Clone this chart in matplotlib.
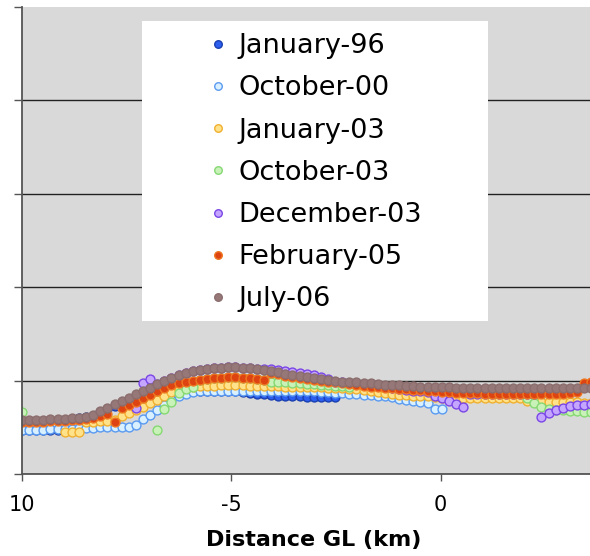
import numpy as np
import matplotlib
matplotlib.use('Agg')
import matplotlib.pyplot as plt
from matplotlib.patches import Rectangle

nan = np.nan

# distance from grounding line (km), sample positions along the profile
distance_km = [-10.00, -9.83, -9.66, -9.49, -9.32, -9.15, -8.98, -8.81, -8.64, -8.47,
               -8.30, -8.13, -7.96, -7.79, -7.62, -7.45, -7.28, -7.11, -6.94, -6.77,
               -6.60, -6.43, -6.26, -6.09, -5.92, -5.75, -5.58, -5.41, -5.24, -5.07,
               -4.90, -4.73, -4.56, -4.39, -4.22, -4.05, -3.88, -3.71, -3.54, -3.37,
               -3.20, -3.03, -2.86, -2.69, -2.52, -2.35, -2.18, -2.01, -1.84, -1.67,
               -1.50, -1.33, -1.16, -0.99, -0.82, -0.65, -0.48, -0.31, -0.14, 0.03,
               0.20, 0.37, 0.54, 0.71, 0.88, 1.05, 1.22, 1.39, 1.56, 1.73,
               1.90, 2.07, 2.24, 2.41, 2.58, 2.75, 2.92, 3.09, 3.26, 3.43, 3.60]

jan96 = [0.47, 0.47, 0.47, 0.47, 0.47, 0.47, 0.47, 0.47,
         0.60, 0.61, 0.62, 0.66, 0.70, 0.73,
         0.74, 0.75, 0.77, 0.79, 0.81, 0.83, 0.85, 0.86, 0.87, 0.88,
         0.89, 0.89, 0.89, 0.89, 0.89, 0.89, 0.89,
         0.88, 0.87, 0.86, 0.86, 0.85, 0.84, 0.83, 0.83, 0.83, 0.82, 0.82, 0.82, 0.82, 0.82,
         nan, nan, nan, nan, nan, nan, nan, nan, nan, nan, nan, nan,
         nan, nan, nan, nan, nan, nan, nan, nan, nan, nan, nan, nan,
         nan, nan, nan, nan, nan, nan, nan, nan, nan, nan, nan, nan]

oct00 = [0.47, 0.47, 0.47, 0.47, 0.48, 0.48, 0.48, 0.48, 0.49, 0.49, 0.49,
         0.50, 0.50, 0.50, 0.50, 0.50, 0.52,
         0.59, 0.63, 0.68, 0.74, 0.79, 0.83, 0.86, 0.88,
         0.89, 0.89, 0.89, 0.89, 0.89, 0.89, 0.89, 0.89,
         0.89, 0.89, 0.89, 0.89, 0.89, 0.89, 0.89, 0.89,
         0.89, 0.88, 0.88, 0.87, 0.87, 0.86, 0.86, 0.85, 0.85, 0.84, 0.83, 0.82,
         0.80, 0.79, 0.78, 0.77, 0.76, 0.70, 0.70,
         nan, nan, nan, nan, nan, nan, nan, nan, nan, nan, nan,
         nan, nan, nan, nan, nan, nan, nan, nan, nan, nan]

jan03 = [nan, nan, nan, nan, nan, nan,
         0.45, 0.45, 0.45,
         0.56, 0.56, 0.57, 0.57, 0.58,
         0.62, 0.65, 0.68, 0.72, 0.76, 0.79, 0.84, 0.88, 0.90, 0.92,
         0.93, 0.94, 0.94, 0.94, 0.95, 0.95, 0.95, 0.95, 0.94, 0.94,
         0.94, 0.94, 0.94, 0.93, 0.93, 0.93, 0.93,
         0.93, 0.93, 0.92, 0.92, 0.92, 0.91, 0.91, 0.90, 0.89, 0.88, 0.87, 0.86,
         0.85, 0.85, 0.84, 0.83, 0.83,
         0.82, 0.81, 0.81, 0.81, 0.81, 0.81, 0.81, 0.81, 0.81, 0.81, 0.81, 0.81, 0.81,
         0.78, 0.77, 0.77, 0.77, 0.77, 0.77, 0.77, 0.77, 0.76, 0.76]

oct03 = [0.66,
         nan, nan, nan, nan, nan, nan, nan, nan, nan,
         nan, nan, nan, nan, nan, nan, nan, nan, nan,
         0.47, 0.70, 0.77, 0.87, 0.91, 0.93,
         1.01, 1.02, 1.03, 1.03, 1.04, 1.04, 1.03, 1.03, 1.02, 1.01,
         0.99, 0.98, 0.98, 0.97, 0.97, 0.96, 0.96, 0.95, 0.95, 0.94, 0.94, 0.93,
         nan, nan, nan, nan, nan, nan, nan, nan, nan, nan, nan, nan,
         nan, nan, nan, nan, nan, nan, nan, nan, nan, nan, nan, nan,
         0.81, 0.76, 0.72, 0.70, 0.69, 0.68, 0.67, 0.67, 0.66, 0.66]

dec03 = [nan, nan, nan, nan, nan, nan, nan, nan,
         nan, nan, nan, nan, nan, nan, nan, nan,
         0.71, 0.97, 1.02,
         0.96, 1.00, 1.03, 1.06, 1.08, 1.10, 1.11, 1.12, 1.13, 1.14, 1.15, 1.15, 1.14, 1.13, 1.12,
         1.12, 1.12, 1.11, 1.10, 1.09, 1.08, 1.07, 1.06, 1.04, 1.02,
         0.99, 0.98, 0.97, 0.96, 0.96, 0.95, 0.94, 0.93, 0.92, 0.91, 0.90, 0.89, 0.89, 0.88,
         0.83, 0.81, 0.78, 0.75, 0.72,
         0.86, 0.86, 0.86, 0.86, 0.86, 0.86, 0.86, 0.86, 0.86, 0.86,
         0.61, 0.65, 0.69, 0.71, 0.73, 0.74, 0.74, 0.75]

feb05 = [0.56, 0.56, 0.56, 0.56, 0.57, 0.57, 0.57, 0.58, 0.58, 0.59,
         0.60, 0.62, 0.64, 0.56, 0.71, 0.74, 0.77, 0.81, 0.85, 0.89,
         0.92, 0.95, 0.97, 0.99, 1.00, 1.01, 1.02, 1.03, 1.03, 1.04,
         1.04, 1.03, 1.03, 1.02, 1.01, 1.08, 1.07, 1.05, 1.04, 1.03,
         1.02, 1.01, 1.00, 0.99, 0.98, 0.97, 0.96, 0.95, 0.94, 0.93,
         0.93, 0.92, 0.92, 0.91, 0.91, 0.90, 0.90, 0.89, 0.89, 0.88,
         0.88, 0.87, 0.87, 0.87, 0.87, 0.86, 0.86, 0.86, 0.86, 0.86,
         0.86, 0.86, 0.86, 0.86, 0.86, 0.86, 0.86, 0.87, 0.88, 0.97, 0.98]

jul06 = [0.58, 0.58, 0.58, 0.58, 0.59, 0.59, 0.59, 0.60, 0.60, 0.61,
         0.63, 0.67, 0.71, 0.75, 0.78, 0.81, 0.86, 0.89, 0.92, 0.96,
         1.00, 1.03, 1.06, 1.08, 1.10, 1.11, 1.12, 1.13, 1.14, 1.15,
         1.15, 1.14, 1.13, 1.12, 1.11, 1.10, 1.09, 1.07, 1.06, 1.05,
         1.04, 1.03, 1.02, 1.01, 1.00, 0.99, 0.99, 0.98, 0.97, 0.97,
         0.96, 0.95, 0.95, 0.95, 0.94, 0.94, 0.93, 0.93, 0.93, 0.93,
         0.93, 0.92, 0.92, 0.92, 0.92, 0.92, 0.92, 0.92, 0.92, 0.92,
         0.92, 0.92, 0.92, 0.92, 0.92, 0.92, 0.92, 0.92, 0.92, 0.92, 0.92]

series_names = ['January-96', 'October-00', 'January-03', 'October-03',
                'December-03', 'February-05', 'July-06']
series_values = [jan96, oct00, jan03, oct03, dec03, feb05, jul06]
fill_colors = ['#2c5ff0', '#d8f0ff', '#ffe28a', '#c9f2b8', '#c4a6ff', '#dd4411', '#977878']
edge_colors = ['#1a3fb0', '#5a9af0', '#f0b030', '#86d873', '#7b46e6', '#ee7722', '#8b6d6d']

W, H = 590, 556
fig = plt.figure(figsize=(W / 100, H / 100), dpi=100)
ax = fig.add_axes([22 / W, 1 - 474 / H, 1 - 22 / W, (474 - 7) / H])
ax.set_facecolor('#d9d9d9')

for name, vals, fc, ec in zip(series_names, series_values, fill_colors, edge_colors):
    ax.plot(distance_km, vals, 'o', ms=6.4, mfc=fc, mec=ec, mew=1.0, label=name)

ax.set_xlim(-10, 3.57)
ax.set_ylim(0, 5)

ax.set_yticks(range(6))
ax.yaxis.grid(True, color='#222222', lw=1.0)
ax.get_ygridlines()[-1].set_visible(False)
ax.set_axisbelow(True)
ax.tick_params(axis='y', labelleft=False, length=6, width=1, color='#555555')

ax.set_xticks([-10, -5, 0])
ax.set_xticklabels(['10', '-5', '0'])
ax.tick_params(axis='x', length=5, width=1, color='#555555', labelsize=15, pad=10)

for side in ['top', 'right']:
    ax.spines[side].set_visible(False)
for side in ['left', 'bottom']:
    ax.spines[side].set_color('#555555')
    ax.spines[side].set_linewidth(1.3)

ax.set_xlabel('Distance GL (km)', fontsize=16, fontweight='bold')
ax.xaxis.set_label_coords((314 - 22) / (W - 22), -0.12)

# white box behind the legend
box = Rectangle((142 / W, 1 - 321 / H), 346 / W, 300 / H, transform=fig.transFigure,
                facecolor='white', edgecolor='none', zorder=4, clip_on=False)
ax.add_patch(box)

leg = ax.legend(loc='upper left', bbox_to_anchor=(210 / W, 1 - 33 / H),
                bbox_transform=fig.transFigure, frameon=False, fontsize=19.5,
                handlelength=0.6, handletextpad=0.45, labelspacing=0.60,
                borderpad=0, borderaxespad=0, markerscale=0.85)
leg.set_zorder(5)

fig.savefig('out.png', dpi=100)
